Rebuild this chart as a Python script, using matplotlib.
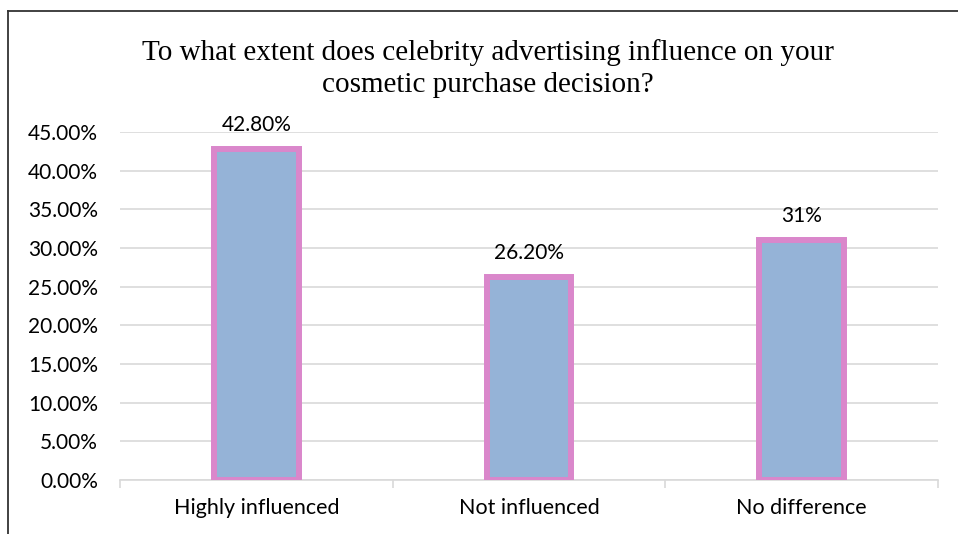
import numpy as np
import matplotlib.pyplot as plt
from matplotlib.lines import Line2D
from matplotlib.ticker import FuncFormatter

categories = ["Highly influenced", "Not influenced", "No difference"]
values = [0.428, 0.262, 0.31]
value_labels = ["42.80%", "26.20%", "31%"]
title_lines = ["To what extent does celebrity advertising influence on your",
               "cosmetic purchase decision?"]

W, H = 958, 534
fig = plt.figure(figsize=(W / 100, H / 100), dpi=100)

# axes placed in pixel terms: x 120..938, y (0%) 480 .. (45%) 132
ax = fig.add_axes([120 / W, 1 - 480 / H, (938 - 120) / W, (480 - 132) / H])

x = np.arange(len(categories))
ax.bar(x, values, width=0.31, color="#95B3D7", edgecolor="#DA87CB",
       linewidth=4.3, zorder=3)

for xi, v, lab in zip(x, values, value_labels):
    ax.annotate(lab, (xi, v), xytext=(0, 13), textcoords="offset points",
                ha="center", va="baseline", fontsize=15, family="Lato",
                color="#000000", zorder=4)

ax.set_xlim(-0.5, 2.5)
ax.set_ylim(0, 0.45)
ax.set_yticks(np.arange(0, 0.4501, 0.05))
ax.yaxis.set_major_formatter(FuncFormatter(lambda v, p: f"{v * 100:.2f}%"))
ax.grid(axis="y", color="#D9D9D9", linewidth=1.2, zorder=0)
ax.set_axisbelow(True)

ax.set_xticks(x)
ax.set_xticklabels(categories)
ax.set_xticks([-0.5, 0.5, 1.5, 2.5], minor=True)
ax.tick_params(axis="x", which="major", length=0, pad=13, labelsize=15.5)
ax.tick_params(axis="x", which="minor", length=6, width=1.2, color="#D9D9D9")
ax.tick_params(axis="y", length=0, pad=16, labelsize=15)
for lab in ax.get_xticklabels() + ax.get_yticklabels():
    lab.set_family("Lato")

for s in ["top", "right", "left"]:
    ax.spines[s].set_visible(False)
ax.spines["bottom"].set_color("#D9D9D9")
ax.spines["bottom"].set_linewidth(1.2)

for line, base in zip(title_lines, [60, 92]):
    fig.text(488 / W, 1 - base / H, line, ha="center", va="baseline",
             fontsize=21, family="Liberation Serif")

# chart frame (left and top edges visible)
fig.add_artist(Line2D([8 / W, 8 / W], [0, 1 - 11 / H], color="#333333", linewidth=1.3))
fig.add_artist(Line2D([8 / W, 1], [1 - 11 / H, 1 - 11 / H], color="#333333", linewidth=1.3))

fig.savefig("out.png", dpi=100)
